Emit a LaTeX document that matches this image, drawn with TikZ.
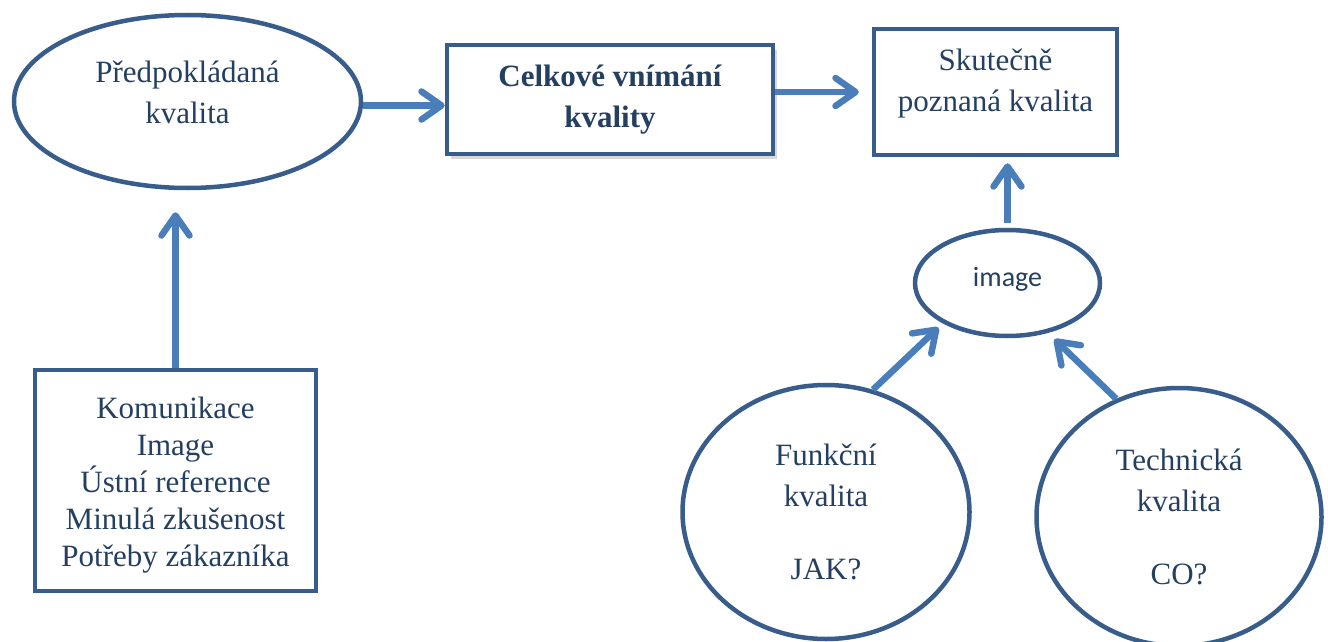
\documentclass[tikz,border=0pt]{standalone}
\usepackage{fontspec}
\setmainfont{Liberation Serif}
\newfontfamily\calibrifont{Carlito}
\usetikzlibrary{arrows.meta,shapes.geometric,shadows}
\definecolor{QualLine}{HTML}{385D8A}
\definecolor{QualArrow}{HTML}{4A7EBB}
\definecolor{QualInk}{HTML}{243F60}
\tikzset{
  qtext/.style={font=\fontsize{31}{41}\selectfont, text=QualInk, align=center},
  qbox/.style={draw=QualLine, line width=4.5pt, fill=white, qtext},
  qoval/.style={qbox, ellipse, inner sep=0pt},
  qarrow/.style={-{Straight Barb[length=20pt,width=28pt,round]}, line width=6.5pt, draw=QualArrow}
}
\begin{document}
\begin{tikzpicture}[x=1pt, y=-1pt]
\path[use as bounding box, clip] (0,0) rectangle (1328,642);
\node[qoval, minimum width=347pt, minimum height=173pt] (pred) at (187.5,101.5) {};
\node[qtext] (predtext) at ([yshift=9pt]pred.center) {Předpokládaná\\kvalita};
\node[qbox, minimum width=326pt, minimum height=109pt, font=\fontsize{31}{41}\selectfont\bfseries,
  drop shadow={shadow xshift=4pt, shadow yshift=-5pt, fill=gray!60, opacity=.5}] (cel) at (610,99.5) {Celkové vnímání\\kvality};
\node[qbox, minimum width=243pt, minimum height=126pt] (sk) at (995.5,92) {};
\node[qtext] (sktext) at ([yshift=8pt]sk.center) {Skutečně\\poznaná kvalita};
\node[qoval, minimum width=185pt, minimum height=106pt] (img) at (1007.5,283) {};
\node[qtext, font=\calibrifont\fontsize{28}{34}\selectfont] (imgtext) at ([yshift=4pt]img.center) {image};
\node[qbox, minimum width=281pt, minimum height=221pt] (kom) at (175.5,480.5) {};
\node[qtext, font=\fontsize{31}{37}\selectfont] (komtext) at ([yshift=-5pt]kom.center)
  {Komunikace\\Image\\Ústní reference\\Minulá zkušenost\\Potřeby zákazníka};
\node[qoval, minimum width=287pt, minimum height=254pt] (fun) at (826,512) {Funkční\\kvalita\\[32pt]JAK?};
\node[qoval, minimum width=285pt, minimum height=258pt] (tech) at (1179,517) {Technická\\kvalita\\[32pt]CO?};
% arrows
\draw[qarrow, transform canvas={yshift=-4pt}] (pred.east) -- (pred.east -| cel.west);
\draw[qarrow, shorten >=13pt] (cel.east |- sk.west) -- (sk.west);
\draw[qarrow, shorten <=5pt, shorten >=6pt] (img.north) -- (img.north |- sk.south);
\draw[qarrow, shorten >=22pt] (kom.north) -- (kom.north |- pred.south);
\draw[qarrow, shorten >=6pt] (fun.69) -- (img.212);
\draw[qarrow, shorten >=9pt] (tech.118) -- (img.-51);
\end{tikzpicture}
\end{document}
